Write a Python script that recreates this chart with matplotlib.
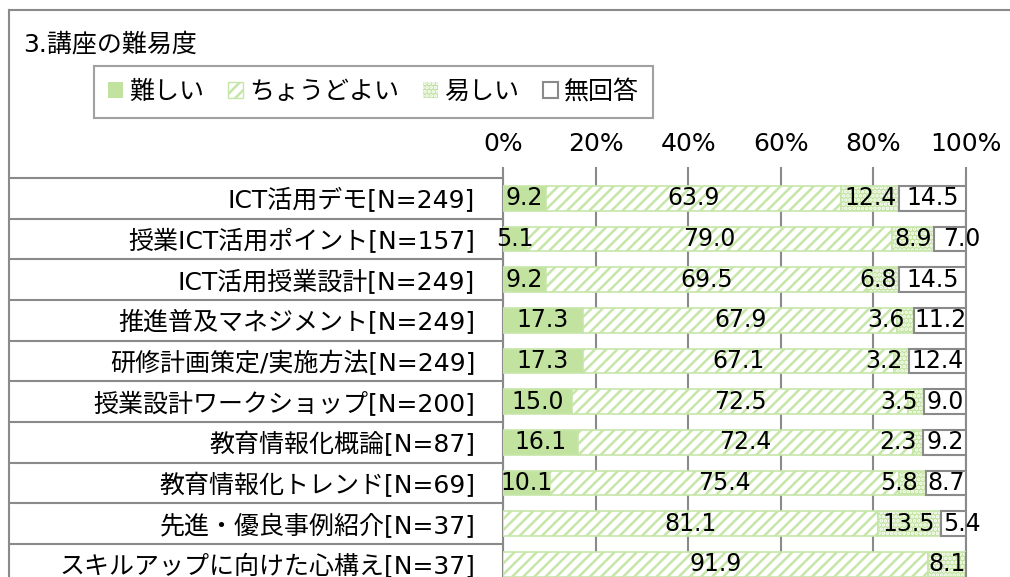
import matplotlib
matplotlib.use("Agg")
import matplotlib.pyplot as plt
from matplotlib.patches import Patch
from matplotlib.lines import Line2D
import numpy as np

plt.rcParams['font.family'] = ['DejaVu Sans', 'Noto Sans CJK JP']
plt.rcParams['hatch.linewidth'] = 1.8

title = "3.講座の難易度"
categories = [
    "ICT活用デモ[N=249]",
    "授業ICT活用ポイント[N=157]",
    "ICT活用授業設計[N=249]",
    "推進普及マネジメント[N=249]",
    "研修計画策定/実施方法[N=249]",
    "授業設計ワークショップ[N=200]",
    "教育情報化概論[N=87]",
    "教育情報化トレンド[N=69]",
    "先進・優良事例紹介[N=37]",
    "スキルアップに向けた心構え[N=37]",
]
series_names = ["難しい", "ちょうどよい", "易しい", "無回答"]
difficult = [9.2, 5.1, 9.2, 17.3, 17.3, 15.0, 16.1, 10.1, 0.0, 0.0]
just_right = [63.9, 79.0, 69.5, 67.9, 67.1, 72.5, 72.4, 75.4, 81.1, 91.9]
easy = [12.4, 8.9, 6.8, 3.6, 3.2, 3.5, 2.3, 5.8, 13.5, 8.1]
no_answer = [14.5, 7.0, 14.5, 11.2, 12.4, 9.0, 9.2, 8.7, 5.4, 0.0]
xticks = [0, 20, 40, 60, 80, 100]
xticklabels = ["0%", "20%", "40%", "60%", "80%", "100%"]

GREEN = '#c2e3a0'
GREEN_EDGE = '#c6e6a8'
GRAY = '#8a8a8a'

W, H = 1010, 577
fig = plt.figure(figsize=(W / 100, H / 100), dpi=100)

# axes placement (pixels)
ax_left, ax_right, ax_top = 503, 966, 178
row_h = 40.67
ax_bottom = ax_top + row_h * len(categories)
ax = fig.add_axes([ax_left / W, (H - ax_bottom) / H, (ax_right - ax_left) / W, (ax_bottom - ax_top) / H])
px_per_unit = (ax_right - ax_left) / 100.0

y = np.arange(len(categories))
bh = 0.6
d = np.array(difficult)
j = np.array(just_right)
e = np.array(easy)
n = np.array(no_answer)

ax.barh(y, d, height=bh, color=GREEN, edgecolor=GREEN_EDGE, linewidth=1.2, zorder=3)
ax.barh(y, j, left=d, height=bh, color='white', edgecolor=GREEN_EDGE, hatch='///', linewidth=1.2, zorder=3)
ax.barh(y, e, left=d + j, height=bh, color=GREEN, edgecolor='white', hatch='....', linewidth=0, zorder=3)
ax.barh(y, e, left=d + j, height=bh, color='none', edgecolor=GREEN_EDGE, linewidth=1.2, zorder=3)
ax.barh(y, n, left=d + j + e, height=bh, color='white', edgecolor=GRAY, linewidth=1.5, zorder=3)

ax.set_xlim(0, 100)
ax.set_ylim(len(categories) - 0.5, -0.5)

fs_num = 17
lefts = [np.zeros_like(d), d, d + j, d + j + e]
vals = [d, j, e, n]
texts = {}
for k in [0, 1, 3, 2]:
    for i in range(len(categories)):
        v = vals[k][i]
        if v <= 0:
            continue
        cx = lefts[k][i] + v / 2
        t = ax.text(cx, y[i], f"{v:.1f}", ha='center', va='center', fontsize=fs_num, zorder=5)
        texts[(k, i)] = t

# resolve label overlaps like the original chart
fig.canvas.draw()
rend = fig.canvas.get_renderer()
gap = 9 / px_per_unit
for i in range(len(categories)):
    if (3, i) in texts:
        t = texts[(3, i)]
        w = t.get_window_extent(rend).width / px_per_unit
        if n[i] < 0.92 * w:
            # narrow segment: label pushed toward the right edge
            t.set_x(100 - 0.8)
    if (2, i) in texts and (3, i) in texts:
        t2 = texts[(2, i)]
        t3 = texts[(3, i)]
        w2 = t2.get_window_extent(rend).width / px_per_unit
        w3 = t3.get_window_extent(rend).width / px_per_unit
        left3 = t3.get_position()[0] - w3 / 2
        cx2 = t2.get_position()[0]
        if cx2 + w2 / 2 > left3 - gap:
            t2.set_x(left3 - gap - w2 / 2)

ax.xaxis.tick_top()
ax.set_xticks(xticks)
ax.set_xticklabels(xticklabels, fontsize=18)
ax.tick_params(axis='x', length=8, width=1.5, color=GRAY, pad=8)
ax.set_yticks(y)
ax.set_yticklabels(categories, fontsize=18)
ax.tick_params(axis='y', length=0, pad=20)
ax.grid(axis='x', color=GRAY, linewidth=1.5, zorder=0)
ax.set_axisbelow(True)
for s in ['top', 'bottom']:
    ax.spines[s].set_visible(False)
for s in ['left', 'right']:
    ax.spines[s].set_color(GRAY)
    ax.spines[s].set_linewidth(1.5)

# category separator lines extending to chart frame
frame_x = 9
xa0 = (frame_x - ax_left) / (ax_right - ax_left)
bounds = np.arange(len(categories) + 1) - 0.5
ax.hlines(bounds, xa0, 0, transform=ax.get_yaxis_transform(), colors=GRAY, linewidth=1.5, clip_on=False)

# chart frame
fig.add_artist(Line2D([frame_x / W, frame_x / W], [0, 1 - 10 / H], color=GRAY, linewidth=1.5))
fig.add_artist(Line2D([frame_x / W, 1], [1 - 10 / H, 1 - 10 / H], color=GRAY, linewidth=1.5))

fig.text(23 / W, 1 - 44 / H, title, fontsize=18, va='center', ha='left')

handles = [
    Patch(facecolor=GREEN, edgecolor=GREEN, linewidth=0),
    Patch(facecolor='white', edgecolor=GREEN_EDGE, hatch='///', linewidth=1),
    Patch(facecolor=GREEN, edgecolor='white', hatch='....', linewidth=0),
    Patch(facecolor='white', edgecolor=GRAY, linewidth=1.5),
]
leg = fig.legend(handles, series_names, loc='center', bbox_to_anchor=(373.5 / W, 1 - 92 / H),
                 ncol=4, fontsize=18, frameon=True, fancybox=False, edgecolor=GRAY,
                 handlelength=0.6, handleheight=0.6, handletextpad=0.25, columnspacing=0.95,
                 borderpad=0.55, borderaxespad=0)
leg.get_frame().set_linewidth(1.5)

fig.savefig("out.png", dpi=100)
